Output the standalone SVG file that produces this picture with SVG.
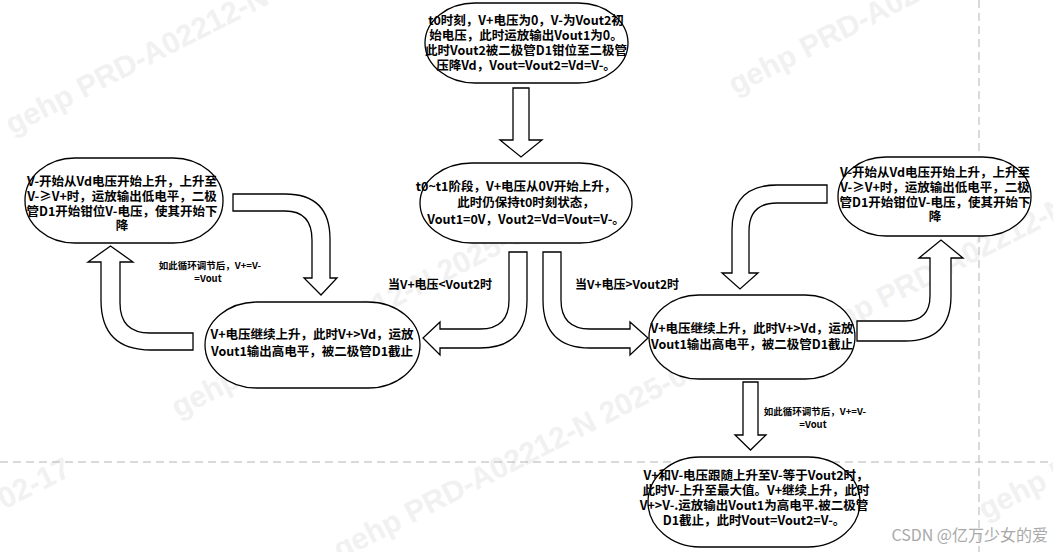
<svg xmlns="http://www.w3.org/2000/svg" width="1053" height="552" viewBox="0 0 1053 552">
<style>
.bg{fill:#ffffff}
.node{fill:#ffffff;stroke:#000000;stroke-width:1.3}
.arrow{fill:#ffffff;stroke:#000000;stroke-width:1.3;stroke-linejoin:miter}
.t{font-family:"Noto Sans CJK SC","Liberation Sans",sans-serif;font-weight:bold;font-size:12.5px;fill:#000000;text-anchor:middle}
.lbl{font-family:"Noto Sans CJK SC","Liberation Sans",sans-serif;font-weight:bold;font-size:12px;fill:#000000;text-anchor:middle}
.sm{font-family:"Noto Sans CJK SC","Liberation Sans",sans-serif;font-weight:bold;font-size:9.5px;fill:#000000;text-anchor:middle}
.wm{font-family:"Liberation Sans",sans-serif;font-weight:bold;font-size:30px;fill:#f1f1f1}
.dash{stroke:#b4b4b4;stroke-width:1;stroke-dasharray:8 5;fill:none}
</style>
<rect class="bg" x="0" y="0" width="1053" height="552"/>
<g id="watermarks">
<text class="wm" transform="translate(12,135) rotate(-27)">gehp PRD-A02212-N 2025-02-17</text>
<text class="wm" transform="translate(178,418) rotate(-27)">gehp PRD-A02212-N 2025-02-17</text>
<text class="wm" transform="translate(340,560) rotate(-27)">gehp PRD-A02212-N 2025-02-17</text>
<text class="wm" transform="translate(735,95) rotate(-27)">gehp PRD-A02212-N 2025-02-17</text>
<text class="wm" transform="translate(812,345) rotate(-27)">gehp PRD-A02212-N 2025-02-17</text>
<text class="wm" transform="translate(-330,680) rotate(-27)">gehp PRD-A02212-N 2025-02-17</text>
<text class="wm" transform="translate(985,520) rotate(-27)">gehp PRD-A02212-N 2025-02-17</text>
</g>
<g id="guides">
<line class="dash" x1="0" y1="462" x2="1053" y2="462"/>
<line class="dash" x1="979" y1="0" x2="979" y2="552"/>
</g>
<g id="connectors">
<path class="arrow" d="M513,88 H529 V140 H542 L521,157 L500,140 H513 Z"/>
<path class="arrow" d="M527,252 V300 Q527,348 480,348 H440 V355 L423,338 L440,322 V329 H480 Q509,329 509,300 V252 Z"/>
<path class="arrow" d="M543,252 V300 Q543,348 590,348 H630 V355 L648,338 L630,322 V329 H590 Q561,329 561,300 V252 Z"/>
<path class="arrow" d="M233,194 H285 Q330,194 330,239 V278 H337 L321,295 L304,278 H312 V240 Q312,211 285,211 H233 Z"/>
<path class="arrow" d="M827,185 H777 Q732,185 732,230 V273 H722 L740,289 L758,273 H749 V231 Q749,203 777,203 H827 Z"/>
<path class="arrow" d="M193,333 H150 Q120,333 120,303 V262 H133 L110.5,246 L88,262 H101 V300 Q101,350 151,350 H193 Z"/>
<path class="arrow" d="M857,321 H905 Q930,321 930,296 V258 H919 L941,240 L963,258 H951 V296 Q951,341 905,341 H857 Z"/>
<path class="arrow" d="M743,382 H758 V435 H766 L750.5,450 L735,435 H743 Z"/>
<text class="lbl" x="440" y="289">当V+电压&lt;Vout2时</text>
<text class="lbl" x="627" y="289">当V+电压&gt;Vout2时</text>
<text class="sm" x="210" y="269">如此循环调节后，V+=V-</text>
<text class="sm" x="208" y="282">=Vout</text>
<text class="sm" x="815" y="415">如此循环调节后，V+=V-</text>
<text class="sm" x="813" y="428">=Vout</text>
</g>
<g id="node-top">
<rect class="node" x="425" y="3" width="203" height="80" rx="50" ry="40"/>
<text class="t" x="526" y="25">t0时刻，V+电压为0，V-为Vout2初</text>
<text class="t" x="526" y="40">始电压，此时运放输出Vout1为0。</text>
<text class="t" x="526" y="55">此时Vout2被二极管D1钳位至二极管</text>
<text class="t" x="526" y="70">压降Vd，Vout=Vout2=Vd=V-。</text>
</g>
<g id="node-center">
<rect class="node" x="420" y="163" width="212" height="80" rx="52" ry="40"/>
<text class="t" x="516" y="191">t0~t1阶段，V+电压从0V开始上升，</text>
<text class="t" x="526" y="207">此时仍保持t0时刻状态，</text>
<text class="t" x="526" y="224">Vout1=0V，Vout2=Vd=Vout=V-。</text>
</g>
<g id="node-topleft">
<rect class="node" x="25" y="158" width="198" height="85" rx="50" ry="42"/>
<text class="t" x="122" y="186">V-开始从Vd电压开始上升，上升至</text>
<text class="t" x="122" y="201">V-≥V+时，运放输出低电平，二极</text>
<text class="t" x="122" y="216">管D1开始钳位V-电压，使其开始下</text>
<text class="t" x="122" y="230">降</text>
</g>
<g id="node-topright">
<rect class="node" x="838" y="157" width="193" height="79" rx="48" ry="39"/>
<text class="t" x="935" y="177">V-开始从Vd电压开始上升，上升至</text>
<text class="t" x="935" y="192">V-≥V+时，运放输出低电平，二极</text>
<text class="t" x="935" y="207">管D1开始钳位V-电压，使其开始下</text>
<text class="t" x="935" y="221">降</text>
</g>
<g id="node-midleft">
<rect class="node" x="205" y="302" width="215" height="86" rx="52" ry="43"/>
<text class="t" x="312" y="339">V+电压继续上升，此时V+&gt;Vd，运放</text>
<text class="t" x="312" y="356">Vout1输出高电平，被二极管D1截止</text>
</g>
<g id="node-midright">
<rect class="node" x="649" y="295" width="206" height="84" rx="50" ry="42"/>
<text class="t" x="752" y="333">V+电压继续上升，此时V+&gt;Vd，运放</text>
<text class="t" x="752" y="349">Vout1输出高电平，被二极管D1截止</text>
</g>
<g id="node-bottom">
<rect class="node" x="648" y="457" width="212" height="90" rx="52" ry="45"/>
<text class="t" x="756" y="480">V+和V-电压跟随上升至V-等于Vout2时，</text>
<text class="t" x="756" y="495">此时V-上升至最大值。V+继续上升，此时</text>
<text class="t" x="754" y="510">V+&gt;V-.运放输出Vout1为高电平.被二极管</text>
<text class="t" x="754" y="525">D1截止，此时Vout=Vout2=V-。</text>
</g>
<text x="1048" y="541" font-family="Noto Sans CJK SC, Liberation Sans, sans-serif" font-size="16" fill="#a9a9a9" text-anchor="end">CSDN @亿万少女的爱</text>
</svg>
